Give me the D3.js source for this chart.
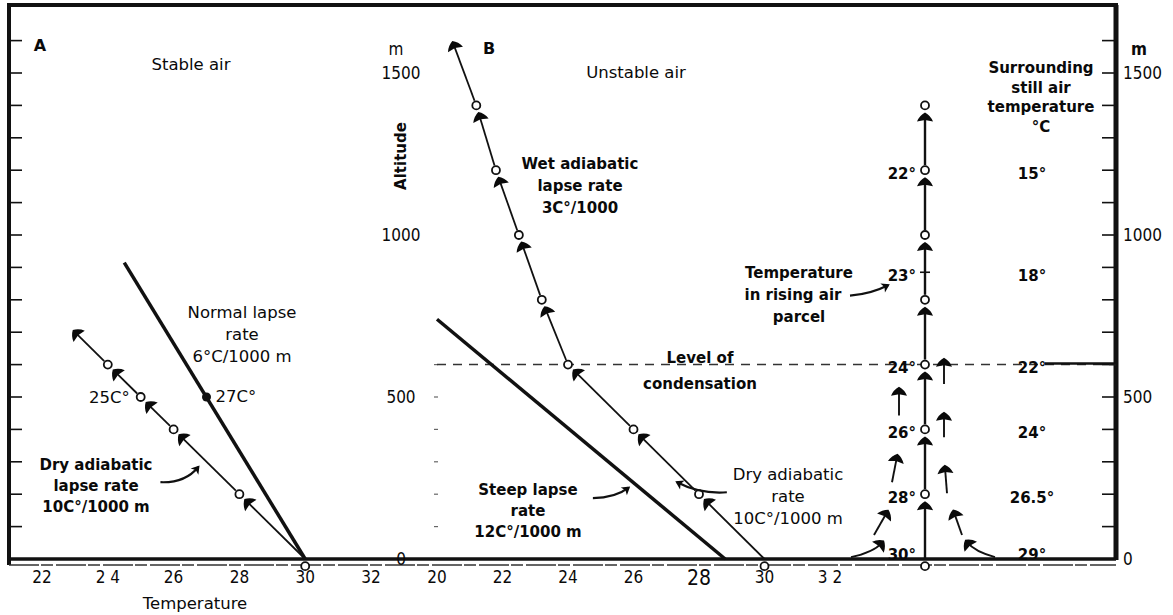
<!DOCTYPE html>
<html>
<head>
<meta charset="utf-8">
<script src="https://cdn.jsdelivr.net/npm/d3@7"></script>
<style>
  body { margin: 0; background: #fff; }
  text { font-family: "DejaVu Sans", sans-serif; fill: #0a0a0a; font-size: 16.5px; }
  .tk { font-family: "DejaVu Sans Condensed", "DejaVu Sans", sans-serif; font-size: 17px; }
  .b { font-weight: bold; font-size: 15px; }
  .sb { font-weight: 600; font-size: 15px; }
</style>
</head>
<body>
<script>

// ---- data ----
var tempTicksA = [22, 24, 26, 28, 30, 32],
    tempLabelsA = ["22", "2 4", "26", "28", "30", "32"];
var tempTicksB = [20, 22, 24, 26, 28, 30, 32],
    tempLabelsB = ["20", "22", "24", "26", "28", "30", "3 2"];
var altLabels = [0, 500, 1000, 1500];
var altMinor = [100, 200, 300, 400, 500, 600, 700, 800, 900, 1000, 1100, 1200, 1300, 1400, 1500, 1600];

// panel A, stable air
var normalLapse = [[30, 0], [24.5, 915]];
var normalDot = [27, 500];
var dryA = [[30, 0], [28, 200], [26, 400], [25, 500], [24, 600], [23, 700]];
var dryACircles = [[28, 200], [26, 400], [25, 500], [24, 600], [30, -22]];

// panel B, unstable air
var steepLapse = [[28.8, 0], [20, 740]];
var parcelB = [[30, 0], [28, 200], [26, 400], [24, 600], [23.2, 800], [22.5, 1000], [21.8, 1200], [21.2, 1400], [20.5, 1590]];
var parcelBCircles = [[28, 200], [26, 400], [24, 600], [23.2, 800], [22.5, 1000], [21.8, 1200], [21.2, 1400], [30, -22]];
var condensationAlt = 600;

// panel C, rising column (x = offset from column)
var columnAlt = [0, 200, 400, 600, 800, 1000, 1200, 1400];
var columnCircles = [200, 400, 600, 800, 1000, 1200, 1400, -22];
var parcelTemps = ["30°", "28°", "26°", "24°", "23°", "22°"];
var airTemps = ["29°", "26.5°", "24°", "22°", "18°", "15°"];
var tempAlts = [0, 200, 400, 600, 885, 1200];
var sideArrows = [
  [1.9, 540, 1.9, 612], [-2.6, 443, -2.6, 522], [1.9, 376, 1.9, 445],
  [-3.3, 237, -2.8, 316], [2.2, 203, 2.0, 282],
  [-5.1, 74, -3.8, 144], [3.7, 74, 2.9, 144]
];
var curvedArrowsC = [
  [-6.4, 6, -5.2, 20, -4.3, 50],
  [6.0, 6, 5.0, 22, 4.2, 52]
];

// curved label pointers [from, control, to]
var pointersA = [[[25.6, 237], [26.35, 234], [26.75, 284]]];
var pointersB = [
  [[24.76, 188], [25.44, 188], [25.85, 220]],
  [[28.85, 206], [28.03, 200], [27.33, 237]]
];
var pointersC = [[[-7.5, 813], [-5.4, 818], [-3.7, 845]]];

// ---- layout ----
var W = 1173, H = 615;
var frameL = 9, frameR = 1116, frameT = 5;

var y = d3.scaleLinear().domain([0, 1500]).range([559, 73]);
var xA = d3.scaleLinear().domain([22, 32]).range([42, 371]);
var xB = d3.scaleLinear().domain([20, 32]).range([437, 830]);
var xC = d3.scaleLinear().domain([-5, 5]).range([875, 975]);

var svg = d3.select("body").append("svg")
    .attr("width", W)
    .attr("height", H)
    .style("background", "#fff");

var defs = svg.append("defs");
defs.append("marker")
    .attr("id", "head")
    .attr("markerUnits", "userSpaceOnUse")
    .attr("viewBox", "-12 -12 24 24")
    .attr("markerWidth", 24)
    .attr("markerHeight", 24)
    .attr("refX", 0)
    .attr("refY", 0)
    .attr("orient", "auto")
  .append("path")
    .attr("d", "M3,0 Q0,-5.5 -6,-8 L-4.5,0 L-6,8 Q0,5.5 3,0 Z")
    .attr("fill", "#0a0a0a");
defs.append("marker")
    .attr("id", "small")
    .attr("markerUnits", "userSpaceOnUse")
    .attr("viewBox", "-10 -10 20 20")
    .attr("markerWidth", 20)
    .attr("markerHeight", 20)
    .attr("refX", 0)
    .attr("refY", 0)
    .attr("orient", "auto")
  .append("path")
    .attr("d", "M2,0 L-6,-5 L-4,0 L-6,5 Z")
    .attr("fill", "#0a0a0a");

// frame
svg.append("line").attr("x1", frameL - 2).attr("x2", frameR + 2).attr("y1", frameT).attr("y2", frameT)
    .attr("stroke", "#111").attr("stroke-width", 4);
svg.append("line").attr("x1", frameL).attr("x2", frameL).attr("y1", frameT).attr("y2", 565)
    .attr("stroke", "#111").attr("stroke-width", 4);
svg.append("line").attr("x1", frameR).attr("x2", frameR).attr("y1", frameT).attr("y2", y(0) + 1)
    .attr("stroke", "#111").attr("stroke-width", 5);
svg.append("line").attr("x1", frameL).attr("x2", frameR).attr("y1", y(0)).attr("y2", y(0))
    .attr("stroke", "#111").attr("stroke-width", 3.5);
svg.append("line").attr("x1", frameL).attr("x2", frameR).attr("y1", y(0) + 6).attr("y2", y(0) + 6)
    .attr("stroke", "#333").attr("stroke-width", 1.3).attr("stroke-dasharray", "30,2,12,3");

// inward ticks on the two outer altitude axes
svg.selectAll(".ltick").data(altMinor).enter().append("line")
    .attr("x1", frameL).attr("x2", frameL + 13)
    .attr("y1", function(d) { return y(d); }).attr("y2", function(d) { return y(d); })
    .attr("stroke", "#111").attr("stroke-width", 1.6);
svg.selectAll(".rtick").data(altMinor).enter().append("line")
    .attr("x1", frameR - 14).attr("x2", frameR)
    .attr("y1", function(d) { return y(d); }).attr("y2", function(d) { return y(d); })
    .attr("stroke", "#111").attr("stroke-width", 1.6);
svg.selectAll(".mtick").data(altMinor.filter(function(d) { return d <= 600; })).enter().append("line")
    .attr("x1", xB(20) - 3).attr("x2", xB(20) + 1)
    .attr("y1", function(d) { return y(d); }).attr("y2", function(d) { return y(d); })
    .attr("stroke", "#666").attr("stroke-width", 1.2);

// altitude labels, middle and right
svg.selectAll(".malt").data(altLabels).enter().append("text")
    .attr("class", "tk")
    .attr("x", 401).attr("y", function(d) { return y(d); })
    .attr("dy", "0.36em").attr("text-anchor", "middle")
    .text(function(d) { return d; });
svg.append("text").attr("class", "tk").attr("x", 396).attr("y", y(1500) - 24)
    .attr("dy", "0.36em").attr("text-anchor", "middle").text("m");
svg.selectAll(".ralt").data(altLabels).enter().append("text")
    .attr("class", "tk")
    .attr("x", 1123).attr("y", function(d) { return y(d); })
    .attr("dy", "0.36em")
    .text(function(d) { return d; });
svg.append("text").attr("class", "tk b").attr("x", 1139).attr("y", y(1500) - 24)
    .attr("dy", "0.36em").attr("text-anchor", "middle").style("font-size", "17px").text("m");
svg.append("text")
    .attr("class", "sb")
    .attr("transform", "translate(401," + 156 + ") rotate(-90)")
    .attr("text-anchor", "middle").attr("dy", "0.36em")
    .text("Altitude");

// temperature tick labels
svg.selectAll(".ta").data(tempTicksA).enter().append("text")
    .attr("class", "tk")
    .attr("x", function(d) { return xA(d); }).attr("y", 577)
    .attr("dy", "0.36em").attr("text-anchor", "middle")
    .text(function(d, i) { return tempLabelsA[i]; });
svg.selectAll(".tb").data(tempTicksB).enter().append("text")
    .attr("class", "tk")
    .attr("x", function(d) { return xB(d); }).attr("y", 577)
    .attr("dy", "0.36em").attr("text-anchor", "middle")
    .style("font-size", function(d) { return d === 28 ? "21px" : null; })
    .text(function(d, i) { return tempLabelsB[i]; });
svg.append("text").attr("x", 195).attr("y", 603).attr("dy", "0.36em")
    .attr("text-anchor", "middle").text("Temperature");

// helper: arrow segments between consecutive points, stopping short of circles
function drawArrows(g, pts, hasCircle, sw) {
  for (var i = 0; i < pts.length - 1; i++) {
    var p = pts[i], q = pts[i + 1];
    var dx = q[0] - p[0], dy = q[1] - p[1], L = Math.sqrt(dx * dx + dy * dy);
    var ux = dx / L, uy = dy / L;
    var s0 = i === 0 ? 0 : 5, s1 = hasCircle(i + 1) ? 10 : 0;
    g.append("line")
        .attr("x1", p[0] + ux * s0).attr("y1", p[1] + uy * s0)
        .attr("x2", q[0] - ux * s1).attr("y2", q[1] - uy * s1)
        .attr("stroke", "#111").attr("stroke-width", sw)
        .attr("marker-end", "url(#head)");
  }
}
function drawCircles(g, pts) {
  g.selectAll(null).data(pts).enter().append("circle")
      .attr("cx", function(d) { return d[0]; }).attr("cy", function(d) { return d[1]; })
      .attr("r", 4).attr("fill", "#fff").attr("stroke", "#111").attr("stroke-width", 1.8);
}
function curve(g, pts, sx) {
  var p = d3.path();
  p.moveTo(sx(pts[0][0]), y(pts[0][1]));
  p.quadraticCurveTo(sx(pts[1][0]), y(pts[1][1]), sx(pts[2][0]), y(pts[2][1]));
  g.append("path").attr("d", p.toString()).attr("fill", "none")
      .attr("stroke", "#111").attr("stroke-width", 2.2).attr("marker-end", "url(#small)");
}

// ---- panel A ----
var gA = svg.append("g");
gA.append("path")
    .attr("d", d3.line().x(function(d) { return xA(d[0]); }).y(function(d) { return y(d[1]); })(normalLapse))
    .attr("stroke", "#111").attr("stroke-width", 3.5).attr("fill", "none");
gA.append("circle").attr("cx", xA(normalDot[0])).attr("cy", y(normalDot[1])).attr("r", 4.5).attr("fill", "#111");
drawArrows(gA, dryA.map(function(d) { return [xA(d[0]), y(d[1])]; }),
    function(i) { return i < dryA.length - 1; }, 1.8);
drawCircles(gA, dryACircles.map(function(d) { return [xA(d[0]), y(d[1])]; }));
pointersA.forEach(function(c) { curve(gA, c, xA); });

gA.append("text").attr("class", "b").attr("x", 40).attr("y", 45).attr("dy", "0.36em")
    .attr("text-anchor", "middle").style("font-size", "16px").text("A");
gA.append("text").attr("x", 191).attr("y", 64).attr("dy", "0.36em").attr("text-anchor", "middle").text("Stable air");
gA.append("text").attr("text-anchor", "middle").selectAll("tspan")
    .data(["Normal lapse", "rate", "6°C/1000 m"]).enter().append("tspan")
    .attr("x", 242).attr("y", function(d, i) { return 312 + i * 22; }).attr("dy", "0.36em")
    .text(function(d) { return d; });
gA.append("text").attr("x", xA(normalDot[0]) + 9).attr("y", y(normalDot[1]) - 1).attr("dy", "0.36em").text("27C°");
gA.append("text").attr("x", xA(25) - 11).attr("y", y(500)).attr("dy", "0.36em")
    .attr("text-anchor", "end").text("25C°");
gA.append("text").attr("class", "sb").attr("text-anchor", "middle").selectAll("tspan")
    .data(["Dry adiabatic", "lapse rate", "10C°/1000 m"]).enter().append("tspan")
    .attr("x", 96).attr("y", function(d, i) { return 465 + i * 21; }).attr("dy", "0.36em")
    .text(function(d) { return d; });

// ---- panel B ----
var gB = svg.append("g");
gB.append("line")
    .attr("x1", xB(20)).attr("x2", frameR)
    .attr("y1", y(condensationAlt)).attr("y2", y(condensationAlt))
    .attr("stroke", "#333").attr("stroke-width", 1.5).attr("stroke-dasharray", "9,7");
gB.append("line")
    .attr("x1", xC(12)).attr("x2", frameR)
    .attr("y1", y(condensationAlt) - 1).attr("y2", y(condensationAlt) - 1)
    .attr("stroke", "#111").attr("stroke-width", 2.5);
gB.append("path")
    .attr("d", d3.line().x(function(d) { return xB(d[0]); }).y(function(d) { return y(d[1]); })(steepLapse))
    .attr("stroke", "#111").attr("stroke-width", 3.5).attr("fill", "none");
drawArrows(gB, parcelB.map(function(d) { return [xB(d[0]), y(d[1])]; }),
    function(i) { return i < parcelB.length - 1; }, 1.8);
drawCircles(gB, parcelBCircles.map(function(d) { return [xB(d[0]), y(d[1])]; }));
pointersB.forEach(function(c) { curve(gB, c, xB); });

gB.append("text").attr("class", "b").attr("x", 489).attr("y", 48).attr("dy", "0.36em")
    .attr("text-anchor", "middle").style("font-size", "16px").text("B");
gB.append("text").attr("x", 636).attr("y", 72).attr("dy", "0.36em").attr("text-anchor", "middle").text("Unstable air");
gB.append("text").attr("class", "sb").attr("text-anchor", "middle").selectAll("tspan")
    .data(["Wet adiabatic", "lapse rate", "3C°/1000"]).enter().append("tspan")
    .attr("x", 580).attr("y", function(d, i) { return 164 + i * 22; }).attr("dy", "0.36em")
    .text(function(d) { return d; });
gB.append("text").attr("class", "sb").attr("text-anchor", "middle").selectAll("tspan")
    .data(["Level of", "condensation"]).enter().append("tspan")
    .attr("x", 700).attr("y", function(d, i) { return 358 + i * 26; }).attr("dy", "0.36em")
    .text(function(d) { return d; });
gB.append("text").attr("class", "sb").attr("text-anchor", "middle").selectAll("tspan")
    .data(["Steep lapse", "rate", "12C°/1000 m"]).enter().append("tspan")
    .attr("x", 528).attr("y", function(d, i) { return 490 + i * 21; }).attr("dy", "0.36em")
    .text(function(d) { return d; });
gB.append("text").attr("text-anchor", "middle").selectAll("tspan")
    .data(["Dry adiabatic", "rate", "10C°/1000 m"]).enter().append("tspan")
    .attr("x", 788).attr("y", function(d, i) { return 474 + i * 22; }).attr("dy", "0.36em")
    .text(function(d) { return d; });

// ---- panel C ----
var gC = svg.append("g");
drawArrows(gC, columnAlt.map(function(d) { return [xC(0), y(d)]; }),
    function(i) { return true; }, 2.4);
drawCircles(gC, columnCircles.map(function(d) { return [xC(0), y(d)]; }));
gC.append("line").attr("x1", xC(-0.5)).attr("x2", xC(0.5)).attr("y1", y(885)).attr("y2", y(885))
    .attr("stroke", "#111").attr("stroke-width", 1.6);
gC.selectAll(".side").data(sideArrows).enter().append("line")
    .attr("x1", function(d) { return xC(d[0]); }).attr("y1", function(d) { return y(d[1]); })
    .attr("x2", function(d) { return xC(d[2]); }).attr("y2", function(d) { return y(d[3]); })
    .attr("stroke", "#111").attr("stroke-width", 1.9).attr("marker-end", "url(#head)");
curvedArrowsC.forEach(function(d) {
  var p = d3.path();
  p.moveTo(xC(d[0]) + (d[0] < 0 ? -10 : 10), y(d[1]));
  p.quadraticCurveTo(xC(d[2]), y(d[3]), xC(d[4]), y(d[5]));
  gC.append("path").attr("d", p.toString()).attr("fill", "none")
      .attr("stroke", "#111").attr("stroke-width", 1.9).attr("marker-end", "url(#head)");
});
pointersC.forEach(function(c) { curve(gC, c, xC); });

gC.selectAll(".pt").data(tempAlts).enter().append("text")
    .attr("class", "b")
    .attr("x", xC(-0.9)).attr("y", function(d) { return y(d) + (d === 0 ? -4 : 3); })
    .attr("dy", "0.36em").attr("text-anchor", "end")
    .text(function(d, i) { return parcelTemps[i]; });
gC.selectAll(".at").data(tempAlts).enter().append("text")
    .attr("class", "b")
    .attr("x", xC(10.7)).attr("y", function(d) { return y(d) + (d === 0 ? -4 : 3); })
    .attr("dy", "0.36em").attr("text-anchor", "middle")
    .text(function(d, i) { return airTemps[i]; });
gC.append("text").attr("class", "b").attr("text-anchor", "middle").selectAll("tspan")
    .data(["Surrounding", "still air", "temperature", "°C"]).enter().append("tspan")
    .attr("x", 1041).attr("y", function(d, i) { return 68 + i * 19.5; }).attr("dy", "0.36em")
    .text(function(d) { return d; });
gC.append("text").attr("class", "b").attr("text-anchor", "middle").selectAll("tspan")
    .data(["Temperature", "in rising air", "parcel"]).enter().append("tspan")
    .attr("x", function(d, i) { return i === 1 ? 793 : 799; })
    .attr("y", function(d, i) { return 273 + i * 22; }).attr("dy", "0.36em")
    .text(function(d) { return d; });

</script>
</body>
</html>
